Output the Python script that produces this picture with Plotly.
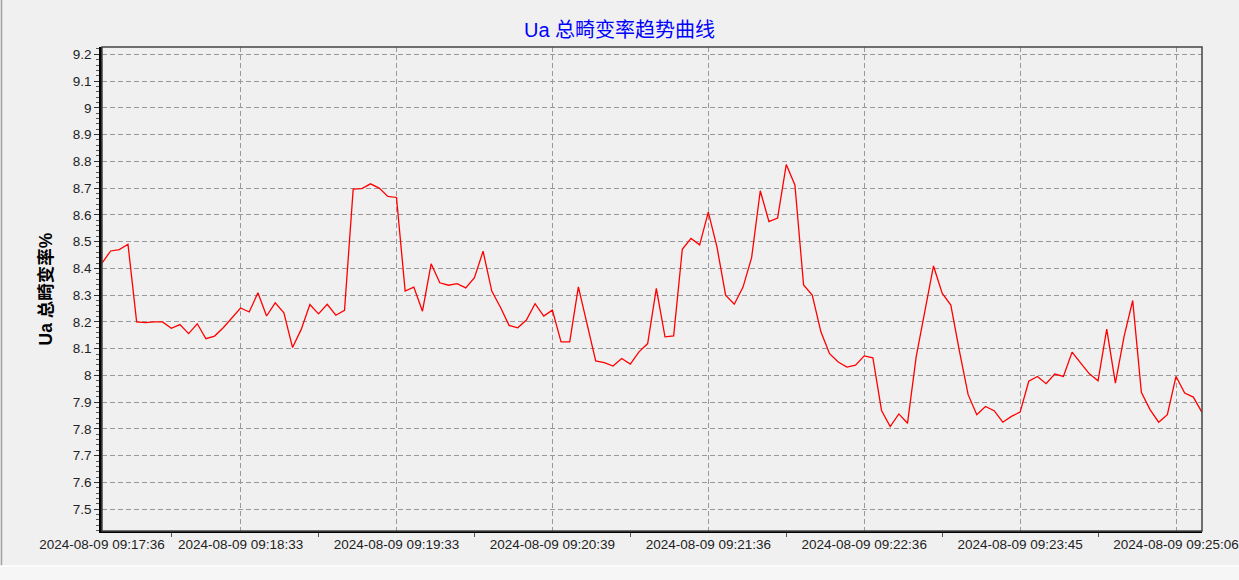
import plotly.graph_objects as go

# ---- data ----
time_labels = ["2024-08-09 09:17:36", "2024-08-09 09:18:33", "2024-08-09 09:19:33",
               "2024-08-09 09:20:39", "2024-08-09 09:21:36", "2024-08-09 09:22:36",
               "2024-08-09 09:23:45", "2024-08-09 09:25:06"]
label_index = [0, 16, 34, 52, 70, 88, 106, 124]

thd_values = [
    8.42, 8.465, 8.47, 8.49, 8.20, 8.197, 8.20, 8.20, 8.176, 8.19,
    8.156, 8.193, 8.137, 8.147, 8.178, 8.215, 8.252, 8.237, 8.309, 8.222,
    8.271, 8.234, 8.104, 8.172, 8.265, 8.23, 8.266, 8.225, 8.243, 8.696,
    8.698, 8.716, 8.70, 8.669, 8.665, 8.315, 8.33, 8.24, 8.417, 8.346,
    8.337, 8.343, 8.327, 8.365, 8.464, 8.315, 8.255, 8.187, 8.178, 8.207,
    8.268, 8.222, 8.244, 8.125, 8.125, 8.331, 8.19, 8.054, 8.048, 8.035,
    8.063, 8.042, 8.088, 8.119, 8.325, 8.144, 8.148, 8.471, 8.512, 8.488,
    8.61, 8.48, 8.30, 8.266, 8.329, 8.44, 8.69, 8.575, 8.588, 8.788,
    8.712, 8.338, 8.30, 8.163, 8.081, 8.05, 8.031, 8.038, 8.073, 8.066,
    7.869, 7.809, 7.856, 7.821, 8.069, 8.238, 8.409, 8.307, 8.263, 8.09,
    7.928, 7.853, 7.884, 7.868, 7.825, 7.847, 7.863, 7.978, 7.996, 7.969,
    8.005, 7.996, 8.087, 8.046, 8.006, 7.98, 8.173, 7.971, 8.145, 8.28,
    7.937, 7.872, 7.825, 7.853, 7.996, 7.934, 7.919, 7.862,
]
point_index = list(range(len(thd_values)))

y_ticks = [7.5, 7.6, 7.7, 7.8, 7.9, 8.0, 8.1, 8.2, 8.3, 8.4, 8.5, 8.6,
           8.7, 8.8, 8.9, 9.0, 9.1, 9.2]
y_tick_text = ["7.5", "7.6", "7.7", "7.8", "7.9", "8", "8.1", "8.2", "8.3", "8.4",
               "8.5", "8.6", "8.7", "8.8", "8.9", "9", "9.1", "9.2"]

title_text = "Ua 总畸变率趋势曲线"
y_title = "Ua 总畸变率%"

# ---- figure ----
W, H = 1239, 580
L, R, T, B = 102, 1202, 47, 531
BG = "#F0F0F0"
FONT = "Arial, 'Liberation Sans', 'Noto Sans CJK SC', sans-serif"

fig = go.Figure()
fig.add_trace(go.Scatter(
    x=point_index, y=thd_values, mode="lines",
    line=dict(color="#FF0000", width=1.3),
    hoverinfo="skip", showlegend=False,
))

mid_ticks = [(label_index[i] + label_index[i + 1]) / 2 for i in range(len(label_index) - 1)]

def px_x(p):
    return (p - L) / (R - L)

def px_y(p):
    return (B - p) / (B - T)

fig.update_layout(
    width=W, height=H,
    margin=dict(l=L, r=W - R, t=T, b=H - B, autoexpand=False),
    paper_bgcolor=BG, plot_bgcolor=BG,
    font=dict(family=FONT, size=13, color="#222222"),
    title=dict(text=title_text, x=0.5, xanchor="center", y=1 - 30 / H, yanchor="middle",
               font=dict(family="Arial, 'Noto Sans CJK SC', sans-serif", size=20, color="#0000FF")),
    xaxis=dict(
        range=[0, len(thd_values) - 1], automargin=False,
        tickmode="array", tickvals=label_index, ticktext=time_labels,
        ticks="", showgrid=True, gridcolor="#999999", griddash="5px,3px", gridwidth=1,
        showline=True, linecolor="#000000", linewidth=2,
        zeroline=False, tickfont=dict(size=13.5, color="#222222"),
        minor=dict(tickmode="array", tickvals=mid_ticks, ticks="outside", ticklen=4,
                   tickcolor="#555555", tickwidth=1, showgrid=False),
        fixedrange=True,
    ),
    yaxis=dict(
        range=[7.4185, 9.2273], automargin=False,
        tickmode="array", tickvals=y_ticks, ticktext=y_tick_text,
        ticks="outside", ticklen=5, tickcolor="#333333", tickwidth=1,
        showgrid=True, gridcolor="#999999", griddash="5px,3px", gridwidth=1,
        showline=True, linecolor="#000000", linewidth=2.5,
        zeroline=False, tickfont=dict(size=13.5, color="#222222"),
        minor=dict(tickmode="linear", tick0=7.5, dtick=0.02, ticks="outside", ticklen=3,
                   tickcolor="#555555", tickwidth=1, showgrid=False),
        title=dict(text=y_title, standoff=16,
                   font=dict(family="Arial, 'Noto Sans CJK SC', sans-serif", size=17.5,
                             color="#000000", weight="bold")),
        fixedrange=True,
    ),
    shapes=[
        # plot frame (top/right)
        dict(type="rect", xref="paper", yref="paper", x0=0, x1=1, y0=0, y1=1,
             line=dict(color="#444444", width=1.5), fillcolor="rgba(0,0,0,0)", layer="above"),
        # window chrome: left border line
        dict(type="line", xref="paper", yref="paper", x0=px_x(1.5), x1=px_x(1.5),
             y0=px_y(0), y1=px_y(566), line=dict(color="#A0A0A0", width=1.5)),
        # bottom strip
        dict(type="rect", xref="paper", yref="paper", x0=px_x(0), x1=px_x(W),
             y0=px_y(566), y1=px_y(H), line=dict(width=0), fillcolor="#F6F6F6"),
        dict(type="line", xref="paper", yref="paper", x0=px_x(0), x1=px_x(W),
             y0=px_y(566), y1=px_y(566), line=dict(color="#FFFFFF", width=1.5)),
    ],
)

fig.write_html(
    "out.html",
    config={"displayModeBar": False},
    post_script="document.body.style.margin='0';document.body.style.padding='0';"
                "document.body.style.overflow='hidden';",
)
